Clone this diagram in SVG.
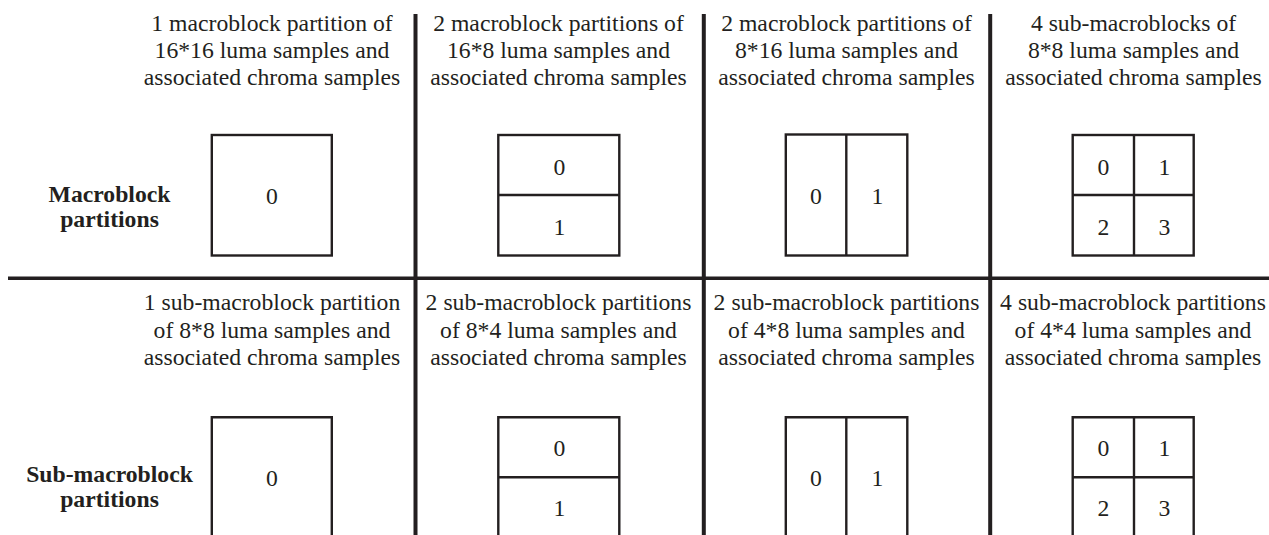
<svg xmlns="http://www.w3.org/2000/svg" width="1269" height="535" viewBox="0 0 1269 535">
<style>
text{font-family:"Liberation Serif","Times New Roman",serif;font-size:23.7px;fill:#231f20;text-anchor:middle}
.b{font-weight:bold}
.box{fill:none;stroke:#231f20;stroke-width:2.4}
.sep{stroke:#231f20;stroke-width:4;fill:none}
.hsep{stroke:#231f20;stroke-width:3.4;fill:none}
</style>
<rect width="1269" height="535" fill="#fff"/>
<g id="grid">
<line class="hsep" x1="8" y1="278.3" x2="1269" y2="278.3"/>
<line class="sep" x1="415.5" y1="14" x2="415.5" y2="535"/>
<line class="sep" x1="703.8" y1="14" x2="703.8" y2="535"/>
<line class="sep" x1="990.2" y1="14" x2="990.2" y2="535"/>
</g>
<g id="row-labels">
<text class="b" x="109.5" y="201.7">Macroblock</text>
<text class="b" x="109.5" y="227.3">partitions</text>
<text class="b" x="109.5" y="481.5">Sub-macroblock</text>
<text class="b" x="109.5" y="506.7">partitions</text>
</g>
<g id="mb-16x16">
<text x="272" y="30.5">1 macroblock partition of</text>
<text x="272" y="57.8">16*16 luma samples and</text>
<text x="272" y="85">associated chroma samples</text>
<rect class="box" x="211.8" y="135" width="120" height="120.5"/>
<text x="271.8" y="203.5">0</text>
</g>
<g id="mb-16x8">
<text x="558.5" y="30.5">2 macroblock partitions of</text>
<text x="558.5" y="57.8">16*8 luma samples and</text>
<text x="558.5" y="85">associated chroma samples</text>
<rect class="box" x="498.3" y="135" width="121" height="120.5"/>
<line class="box" x1="498.3" y1="195" x2="619.3" y2="195"/>
<text x="559.5" y="174.8">0</text>
<text x="559.5" y="234.5">1</text>
</g>
<g id="mb-8x16">
<text x="846.5" y="30.5">2 macroblock partitions of</text>
<text x="846.5" y="57.8">8*16 luma samples and</text>
<text x="846.5" y="85">associated chroma samples</text>
<rect class="box" x="785.8" y="134.5" width="121.5" height="121"/>
<line class="box" x1="846.3" y1="134.5" x2="846.3" y2="255.5"/>
<text x="815.8" y="204">0</text>
<text x="877.3" y="204">1</text>
</g>
<g id="mb-8x8">
<text x="1133.5" y="30.5">4 sub-macroblocks of</text>
<text x="1133.5" y="57.8">8*8 luma samples and</text>
<text x="1133.5" y="85">associated chroma samples</text>
<rect class="box" x="1072.7" y="135" width="121" height="120.5"/>
<line class="box" x1="1134" y1="135" x2="1134" y2="255.5"/>
<line class="box" x1="1072.7" y1="195" x2="1193.7" y2="195"/>
<text x="1103.3" y="174.8">0</text>
<text x="1164.3" y="174.8">1</text>
<text x="1103.3" y="234.5">2</text>
<text x="1164.3" y="234.5">3</text>
</g>
<g id="smb-8x8">
<text x="272" y="310.3">1 sub-macroblock partition</text>
<text x="272" y="337.5">of 8*8 luma samples and</text>
<text x="272" y="364.8">associated chroma samples</text>
<path class="box" d="M211.8,540 V417.3 H331.8 V540"/>
<text x="271.8" y="486">0</text>
</g>
<g id="smb-8x4">
<text x="558.5" y="310.3">2 sub-macroblock partitions</text>
<text x="558.5" y="337.5">of 8*4 luma samples and</text>
<text x="558.5" y="364.8">associated chroma samples</text>
<path class="box" d="M498.3,540 V417.3 H619.3 V540"/>
<line class="box" x1="498.3" y1="477.3" x2="619.3" y2="477.3"/>
<text x="559.5" y="456.3">0</text>
<text x="559.5" y="516.3">1</text>
</g>
<g id="smb-4x8">
<text x="846.5" y="310.3">2 sub-macroblock partitions</text>
<text x="846.5" y="337.5">of 4*8 luma samples and</text>
<text x="846.5" y="364.8">associated chroma samples</text>
<path class="box" d="M785.8,540 V417.3 H907.3 V540"/>
<line class="box" x1="846.3" y1="417.3" x2="846.3" y2="540"/>
<text x="815.8" y="485.5">0</text>
<text x="877.3" y="485.5">1</text>
</g>
<g id="smb-4x4">
<text x="1133" y="310.3">4 sub-macroblock partitions</text>
<text x="1133" y="337.5">of 4*4 luma samples and</text>
<text x="1133" y="364.8">associated chroma samples</text>
<path class="box" d="M1072.7,540 V417.3 H1193.7 V540"/>
<line class="box" x1="1134" y1="417.3" x2="1134" y2="540"/>
<line class="box" x1="1072.7" y1="477.3" x2="1193.7" y2="477.3"/>
<text x="1103.3" y="456.3">0</text>
<text x="1164.3" y="456.3">1</text>
<text x="1103.3" y="516.3">2</text>
<text x="1164.3" y="516.3">3</text>
</g>
</svg>
